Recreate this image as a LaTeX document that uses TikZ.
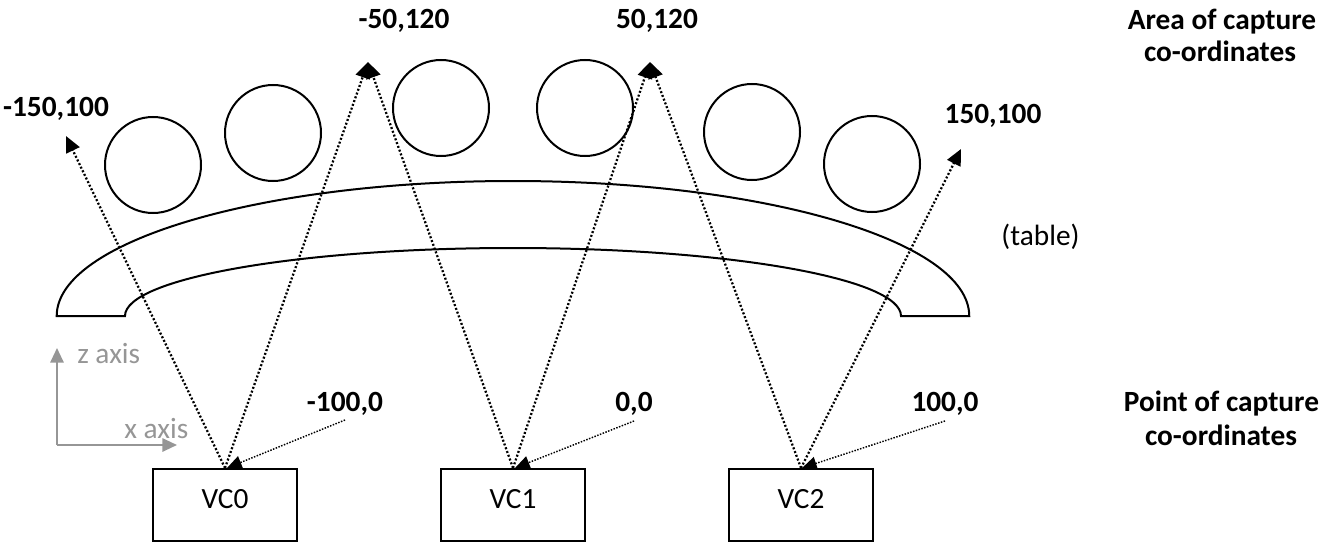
\documentclass[tikz,border=0pt]{standalone}
\usepackage{fontspec}
\setmainfont{Carlito}
\usetikzlibrary{arrows.meta}
\definecolor{axisgray}{RGB}{150,150,150}

\begin{document}
\begin{tikzpicture}[x=0.75pt,y=-0.75pt,
  every node/.style={inner sep=0pt, font=\fontsize{22}{26}\selectfont},
  lbl/.style={anchor=base, font=\fontsize{22}{26}\selectfont\bfseries},
  note/.style={anchor=base},
  cam/.style={draw, line width=1.5pt, minimum width=108pt, minimum height=54pt,
              text height=12pt, text depth=7pt},
  outline/.style={line width=1.5pt},
  ray/.style={line width=1.7pt, dash pattern=on 1.5pt off 1.5pt,
              -{Triangle[length=12pt,width=11pt]}},
  feed/.style={line width=1.1pt, dash pattern=on 1.1pt off 1.1pt,
               -{Triangle[length=11pt,width=10pt]}},
  axis/.style={draw=axisgray, line width=1.5pt,
               -{Triangle[length=11pt,width=10pt,fill=axisgray]}},
  axistext/.style={anchor=base west, text=axisgray}]

  \useasboundingbox (0,0) rectangle (1326,549);

  % seats around the table
  \foreach \cx/\cy in {153/165, 273/133, 441/108, 585/108, 752/132, 872/164}
    \draw[outline] (\cx,\cy) circle[radius=36pt];

  % curved table top
  \draw[outline] (56.7,316) arc[start angle=180, end angle=0, x radius=342.2pt, y radius=101.25pt]
    -- (901,316) arc[start angle=0, end angle=180, x radius=291pt, y radius=51pt] -- cycle;
  \node[note] (table) at (1040.5,245) {(table)};

  % cameras
  \node[cam] (vc0) at (225,505) {VC0};
  \node[cam] (vc1) at (513,505) {VC1};
  \node[cam] (vc2) at (801,505) {VC2};

  % area of capture co-ordinates
  \node[lbl] (a1) at (56,116.7) {-150,100};
  \node[lbl] (a2) at (404,28.3) {-50,120};
  \node[lbl] (a3) at (657,28.3) {50,120};
  \node[lbl] (a4) at (993,124) {150,100};
  \coordinate (t1) at (66,136);
  \coordinate (t2) at (368,62);
  \coordinate (t3) at (650,62);
  \coordinate (t4) at (961,149);

  % point of capture co-ordinates
  \node[lbl] (p0) at (345,411.7) {-100,0};
  \node[lbl] (p1) at (634,411.7) {0,0};
  \node[lbl] (p2) at (945,411.7) {100,0};
  \coordinate (s0) at (345,420);
  \coordinate (s1) at (634,421);
  \coordinate (s2) at (945,421);
  \coordinate (e0) at (227,468);
  \coordinate (e1) at (515,468);
  \coordinate (e2) at (802,468);

  % viewing rays
  \draw[ray] (vc0.north) -- (t1);
  \draw[ray] (vc0.north) -- (t2);
  \draw[ray] (vc1.north) -- (t2);
  \draw[ray] (vc1.north) -- (t3);
  \draw[ray] (vc2.north) -- (t3);
  \draw[ray] (vc2.north) -- (t4);

  % capture points
  \draw[feed] (s0) -- (e0);
  \draw[feed] (s1) -- (e1);
  \draw[feed] (s2) -- (e2);

  % headings
  \node[lbl] (areaA) at (1222,29.3) {Area of capture};
  \node[lbl] (areaB) at (1220,62) {co-ordinates};
  \node[lbl] (pointA) at (1221.5,411.7) {Point of capture};
  \node[lbl] (pointB) at (1221,445) {co-ordinates};

  % axes
  \coordinate (o) at (57,445);
  \coordinate (zt) at (57,348);
  \coordinate (xt) at (177,445);
  \draw[axis] (o) -- (zt);
  \draw[axis] (o) -- (xt);
  \node[axistext] (zlab) at (77,363) {z axis};
  \node[axistext] (xlab) at (124,438) {x axis};
\end{tikzpicture}
\end{document}
